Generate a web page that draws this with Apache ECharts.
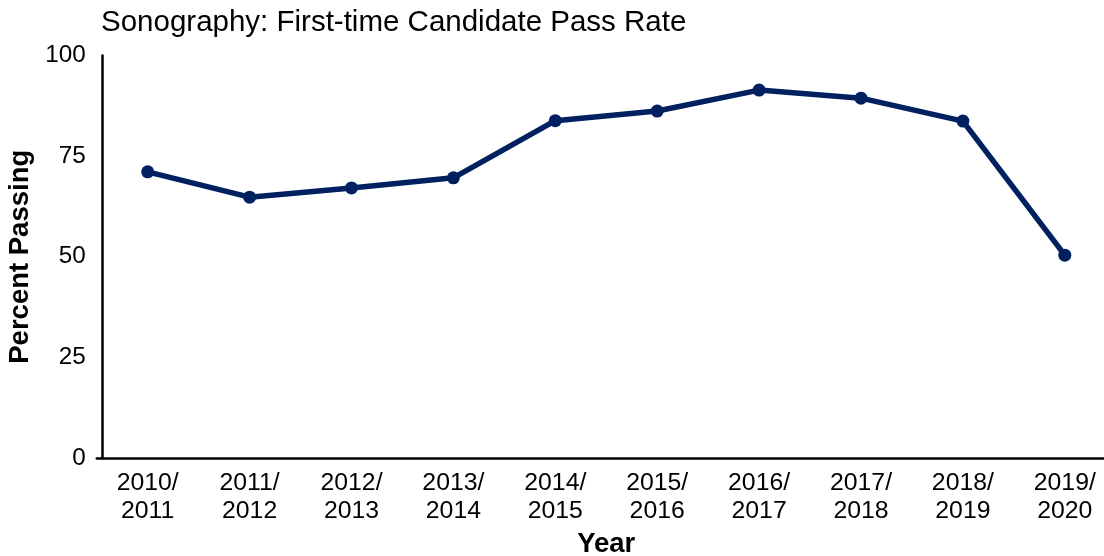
<!DOCTYPE html>
<html>
<head>
<meta charset="utf-8">
<script src="https://cdn.jsdelivr.net/npm/echarts@6/dist/echarts.min.js"></script>
<style>
html,body{margin:0;padding:0;background:#fff;}
#chart{width:1104px;height:556px;}
</style>
</head>
<body>
<div id="chart"></div>
<script>
const titleText = 'Sonography: First-time Candidate Pass Rate';
const categories = ['2010/\n2011','2011/\n2012','2012/\n2013','2013/\n2014','2014/\n2015','2015/\n2016','2016/\n2017','2017/\n2018','2018/\n2019','2019/\n2020'];
const passRate = [71.1, 64.8, 67.1, 69.6, 83.8, 86.2, 91.4, 89.4, 83.7, 50.4];
const yTicks = [0, 25, 50, 75, 100];
const yAxisTitle = 'Percent Passing';
const xAxisTitle = 'Year';

const font = '"Liberation Sans", Arial, sans-serif';
const chart = echarts.init(document.getElementById('chart'), null, {renderer: 'canvas'});
chart.setOption({
  backgroundColor: '#ffffff',
  animation: false,
  title: {
    text: titleText,
    left: 101,
    top: 8,
    padding: 0,
    textStyle: {fontFamily: font, fontSize: 29.5, fontWeight: 'normal', color: '#000'}
  },
  grid: {left: 96.75, width: 1019, top: 55.5, height: 402.5, containLabel: false, outerBoundsMode: 'none'},
  xAxis: {
    type: 'category',
    data: categories,
    boundaryGap: true,
    name: xAxisTitle,
    nameLocation: 'middle',
    nameGap: 72,
    nameTextStyle: {fontFamily: font, fontSize: 27.5, fontWeight: 'bold', color: '#000'},
    axisLine: {show: true, lineStyle: {color: '#000', width: 2.5}},
    axisTick: {show: false},
    splitLine: {show: false},
    axisLabel: {interval: 0, margin: 11, fontFamily: font, fontSize: 24.8, lineHeight: 28, color: '#000'}
  },
  yAxis: {
    type: 'value',
    min: yTicks[0],
    max: yTicks[yTicks.length - 1],
    interval: 25,
    offset: -5,
    name: yAxisTitle,
    nameLocation: 'middle',
    nameRotate: 90,
    nameGap: 65,
    nameTextStyle: {fontFamily: font, fontSize: 27.5, fontWeight: 'bold', color: '#000'},
    axisLine: {show: true, lineStyle: {color: '#000', width: 2.5}},
    axisTick: {show: false},
    splitLine: {show: false},
    axisLabel: {margin: 16, fontFamily: font, fontSize: 24.3, color: '#000'}
  },
  series: [{
    type: 'line',
    data: passRate,
    symbol: 'circle',
    symbolSize: 13,
    lineStyle: {color: '#002060', width: 5.5},
    itemStyle: {color: '#002060'},
    label: {show: false}
  }]
});
</script>
</body>
</html>
